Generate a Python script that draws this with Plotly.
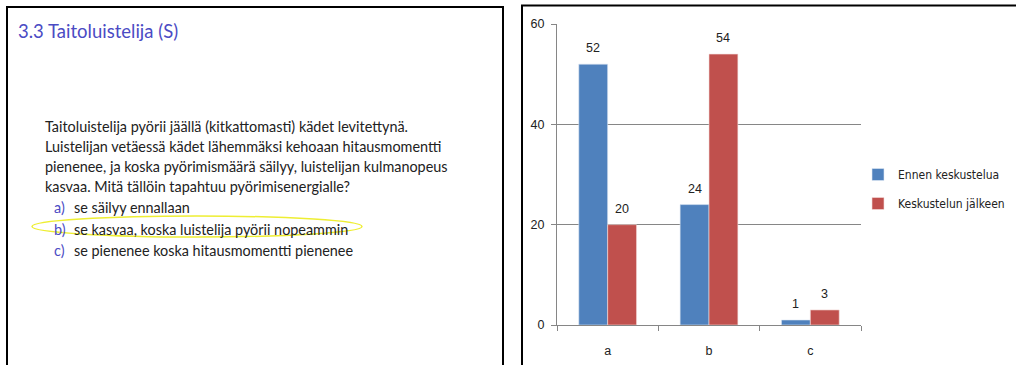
import plotly.graph_objects as go

# Survey answers per option, before and after the discussion
categories = ["a", "b", "c"]
before_discussion = [52, 24, 1]
after_discussion = [20, 54, 3]
series_names = ["Ennen keskustelua", "Keskustelun jälkeen"]
y_ticks = [0, 20, 40, 60]

# Slide text
slide_title = "3.3 Taitoluistelija (S)"
question_lines = [
    "Taitoluistelija pyörii jäällä (kitkattomasti) kädet levitettynä.",
    "Luistelijan vetäessä kädet lähemmäksi kehoaan hitausmomentti",
    "pienenee, ja koska pyörimismäärä säilyy, luistelijan kulmanopeus",
    "kasvaa. Mitä tällöin tapahtuu pyörimisenergialle?",
]
option_letters = ["a)", "b)", "c)"]
option_texts = [
    "se säilyy ennallaan",
    "se kasvaa, koska luistelija pyörii nopeammin",
    "se pienenee koska hitausmomentti pienenee",
]

W, H = 1016, 365
BLUE = "#4F81BD"
RED = "#C0504D"
SLIDE_BLUE = "#4B4BC4"
TEXT = "#222222"
BAR_GAP = 0.43


def px(x):
    return x / W


def py(y):
    return (H - y) / H


fig = go.Figure()
fig.add_trace(go.Bar(
    x=categories, y=before_discussion, name=series_names[0],
    marker=dict(color=BLUE, line=dict(color="#dfe8f3", width=0.6)),
    legendgroup="g1",
))
fig.add_trace(go.Bar(
    x=categories, y=after_discussion, name=series_names[1],
    marker=dict(color=RED, line=dict(color="#f3dddc", width=0.6)),
    legendgroup="g2",
))

shapes = [
    # slide frame
    dict(type="line", xref="paper", yref="paper", x0=px(7), x1=px(7), y0=py(7), y1=py(366),
         line=dict(color="black", width=2)),
    dict(type="line", xref="paper", yref="paper", x0=px(503), x1=px(503), y0=py(7), y1=py(366),
         line=dict(color="black", width=2)),
    dict(type="line", xref="paper", yref="paper", x0=px(6), x1=px(504), y0=py(7), y1=py(7),
         line=dict(color="black", width=2)),
    # chart frame
    dict(type="line", xref="paper", yref="paper", x0=px(522), x1=px(522), y0=py(5.5), y1=py(366),
         line=dict(color="black", width=2)),
    dict(type="line", xref="paper", yref="paper", x0=px(521), x1=px(1017), y0=py(5.5), y1=py(5.5),
         line=dict(color="black", width=2)),
    # highlight around the correct answer
    dict(type="circle", xref="paper", yref="paper", x0=px(32), x1=px(362), y0=py(237), y1=py(216),
         line=dict(color="#EEEE33", width=1.5)),
]

BODY_SIZE = 14.4
annotations = [
    dict(text=slide_title, x=px(16), y=py(31), xref="paper", yref="paper",
         xanchor="left", yanchor="middle", showarrow=False,
         font=dict(size=18.5, color=SLIDE_BLUE, family="Lato")),
]
for i, line in enumerate(question_lines):
    annotations.append(dict(
        text=line, x=px(43), y=py(126 + 20.3 * i), xref="paper", yref="paper",
        xanchor="left", yanchor="middle", showarrow=False,
        font=dict(size=BODY_SIZE, color=TEXT, family="Lato"),
    ))
for i, (letter, txt) in enumerate(zip(option_letters, option_texts)):
    annotations.append(dict(
        text=f"<span style='color:{SLIDE_BLUE}'>{letter}</span>",
        x=px(52), y=py(207 + 22 * i), xref="paper", yref="paper",
        xanchor="left", yanchor="middle", showarrow=False,
        font=dict(size=BODY_SIZE, color=TEXT, family="Lato"),
    ))
    annotations.append(dict(
        text=txt, x=px(72), y=py(207 + 22 * i), xref="paper", yref="paper",
        xanchor="left", yanchor="middle", showarrow=False,
        font=dict(size=BODY_SIZE, color=TEXT, family="Lato"),
    ))

# value labels above each bar (bars sit at +/- a quarter of the group width)
half_bar = (1 - BAR_GAP) / 4
for values, side in ((before_discussion, -1), (after_discussion, 1)):
    for i, v in enumerate(values):
        annotations.append(dict(
            text=str(v), x=i + side * half_bar, y=v, xref="x", yref="y",
            xanchor="center", yanchor="middle", yshift=16, showarrow=False,
            font=dict(size=12.5, color=TEXT, family="Liberation Sans"),
        ))

fig.update_layout(
    width=W, height=H,
    margin=dict(l=0, r=0, t=0, b=0, autoexpand=False),
    paper_bgcolor="white", plot_bgcolor="white",
    barmode="group", bargap=BAR_GAP, bargroupgap=0,
    showlegend=True,
    legend=dict(
        x=px(858), y=py(160), xanchor="left", yanchor="top",
        font=dict(size=12, color=TEXT, family="DejaVu Sans Condensed"),
        tracegroupgap=10, itemwidth=30, bgcolor="rgba(0,0,0,0)",
    ),
    xaxis=dict(
        domain=[px(557), px(861)], range=[-0.5, 2.5],
        showline=True, linecolor="#868686", linewidth=1,
        ticks="outside", tickson="boundaries", ticklen=5, tickcolor="#868686",
        tickfont=dict(size=12.5, color=TEXT, family="Liberation Sans"),
        ticklabelstandoff=14,
        showgrid=False, fixedrange=True,
    ),
    yaxis=dict(
        domain=[(H - 325) / H, (H - 24) / H], range=[0, 60],
        tickvals=y_ticks, showline=True, linecolor="#868686", linewidth=1,
        ticks="outside", ticklen=5, tickcolor="#868686",
        tickfont=dict(size=12.5, color=TEXT, family="Liberation Sans"),
        ticklabelstandoff=4,
        showgrid=True, gridcolor="#868686", gridwidth=1, zeroline=False,
        fixedrange=True,
    ),
    shapes=shapes,
    annotations=annotations,
)

fig.write_html("out.html")
